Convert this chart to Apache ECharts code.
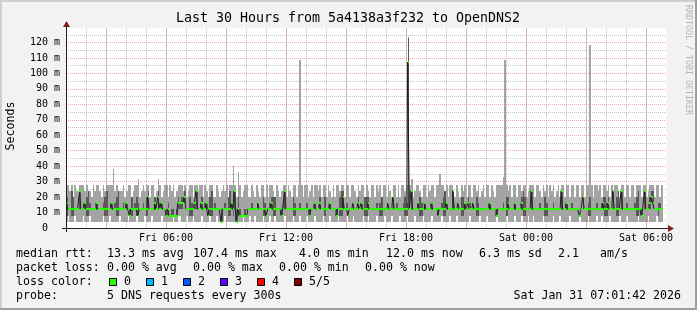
<!DOCTYPE html>
<html><head><meta charset="utf-8">
<script src="https://cdn.jsdelivr.net/npm/echarts@6/dist/echarts.min.js"></script>
<style>html,body{margin:0;padding:0;background:#f2f2f2}#c{width:697px;height:310px}</style>
</head><body><div id="c"></div>
<script>
// time axis: minutes since Fri 00:00, one sample every 5 minutes starting Fri 01:00
const START_MIN = 60;
const STEP_MIN = 5;
const xTickLabels = ['Fri 06:00','Fri 12:00','Fri 18:00','Sat 00:00','Sat 06:00'];
const xMajorGrid = [180,360,540,720,900,1080,1260,1440,1620,1800];
const yTickSuffix = ' m';

const medianRtt = [
16,12,12,12,12,12,12,12,24,12,12,16,12,12,12,12,12,12,16,12,
12,12,12,12,12,12,12,16,12,12,12,12,12,12,12,12,16,12,8,12,
12,12,12,8,12,12,12,12,12,20,12,12,12,16,12,20,12,16,12,12,
8,12,8,8,8,8,8,16,16,16,16,20,12,12,12,12,12,16,24,12,
12,16,12,12,16,8,12,12,12,12,12,12,12,4,12,12,12,12,12,16,
12,24,4,12,8,8,8,8,8,12,12,12,12,12,12,16,12,12,12,12,
8,12,12,16,12,12,12,12,12,8,12,24,12,12,12,12,12,12,12,12,
12,12,12,12,12,12,8,12,12,16,12,12,16,12,12,12,12,12,16,12,
12,12,8,12,12,12,20,12,12,8,12,12,16,12,12,16,12,16,12,12,
12,16,12,12,12,12,12,12,12,12,12,12,12,16,12,12,20,12,12,12,
12,12,12,12,12,107.4,12,24,12,12,12,16,12,12,12,16,12,12,12,16,
12,12,12,8,12,12,12,12,16,12,12,12,24,12,12,16,12,12,12,16,
12,16,12,12,16,12,12,12,12,12,12,12,12,12,16,12,12,12,8,12,
12,12,12,12,12,16,12,12,12,16,12,12,12,16,12,12,12,12,12,24,
12,12,12,12,12,12,12,12,12,12,12,12,12,12,12,12,12,24,12,12,
16,12,12,12,12,12,12,12,8,12,20,12,12,12,12,12,12,12,12,12,
12,12,16,12,12,16,12,12,24,12,12,12,12,24,12,12,12,12,12,12,
12,12,12,12,12,8,12,24,12,12,16,20,16,12,12,12,12,12,null,null];

const pingMin = [
4,8,4,4,4,8,4,4,4,4,8,4,4,4,8,4,4,4,4,4,
4,4,8,4,4,4,8,4,4,4,4,4,8,4,4,4,4,8,4,4,
4,4,8,4,4,4,4,8,4,4,4,8,4,4,4,4,4,8,4,4,
4,4,4,4,8,4,4,8,8,4,4,4,8,4,4,4,8,4,4,4,
4,8,4,4,4,4,8,4,4,4,8,4,4,4,4,8,4,4,4,4,
4,4,4,4,4,4,8,4,4,4,8,4,4,8,4,4,4,4,8,4,
4,4,8,4,4,8,4,4,4,4,4,8,4,4,4,4,8,4,4,4,
8,4,4,4,8,4,4,4,4,8,4,4,4,4,8,4,4,4,8,4,
4,4,4,8,4,4,4,4,8,4,4,4,8,4,4,4,4,4,8,4,
4,8,4,4,4,4,8,4,4,4,4,8,4,4,4,8,4,4,4,4,
8,4,4,4,8,4,4,4,4,8,4,4,4,4,8,4,4,4,4,8,
4,4,4,4,4,8,4,4,4,4,8,4,4,4,8,4,4,4,4,4,
4,4,8,4,4,4,4,4,8,4,4,4,8,4,4,4,4,4,8,4,
4,4,4,4,8,4,4,4,4,8,4,4,4,8,4,4,4,8,4,4,
8,4,4,4,4,4,8,4,4,4,4,4,8,4,4,4,8,4,4,4,
4,4,8,4,4,4,4,4,8,4,4,4,4,8,4,4,4,4,8,4,
4,8,4,4,4,4,8,4,4,4,4,4,8,4,4,4,8,4,4,4,
4,4,4,8,4,4,4,4,4,8,4,4,4,4,8,4,4,4,null,null];

const pingLow = [
8,12,12,8,8,12,12,12,12,12,12,12,8,8,12,12,12,12,12,12,
12,12,12,8,8,12,12,12,12,12,8,8,12,12,12,12,12,12,8,8,
12,12,8,8,12,12,12,12,8,12,12,12,12,12,12,12,12,12,12,12,
8,8,8,8,8,8,8,12,12,12,16,16,12,12,8,8,12,12,12,12,
12,12,12,12,12,8,8,8,12,12,12,12,12,4,12,12,12,8,8,12,
8,12,4,8,8,8,8,8,8,12,12,12,12,12,12,12,12,12,8,8,
8,12,12,12,8,8,12,12,12,8,12,12,12,12,12,12,8,8,12,12,
12,12,12,12,12,12,8,12,12,12,12,12,12,12,12,8,12,12,12,12,
12,12,8,12,8,8,12,12,12,8,12,12,12,12,12,12,12,12,12,8,
8,12,12,12,12,12,12,12,8,8,12,12,12,12,12,12,12,12,12,12,
12,12,12,8,8,12,12,12,12,12,12,12,8,8,12,12,12,12,12,12,
12,12,12,8,12,12,8,8,12,12,12,12,12,12,12,12,12,8,8,12,
12,12,12,12,12,12,8,8,12,12,12,12,12,12,12,12,12,12,8,12,
12,12,12,12,8,12,12,12,12,12,12,12,12,12,8,8,12,12,12,12,
12,12,12,12,12,12,12,8,8,12,12,12,12,12,12,12,12,12,12,12,
12,12,12,12,12,12,12,12,8,12,12,12,12,8,8,12,12,12,12,12,
12,12,12,8,8,12,12,12,12,12,8,8,12,12,12,12,12,12,12,12,
12,12,8,8,12,8,12,12,12,12,12,16,12,12,12,8,12,12,null,null];

const pingHigh = [
20,12,12,24,20,12,12,12,24,12,16,16,20,24,16,12,12,12,16,12,
12,12,16,20,24,12,12,16,12,16,20,24,12,12,16,12,16,12,12,20,
12,16,20,16,12,12,16,12,20,24,12,12,12,20,12,24,16,16,12,12,
12,16,8,12,12,8,12,20,16,20,20,24,12,12,20,16,12,16,24,12,
12,20,12,16,16,12,20,24,12,16,12,12,12,12,12,16,12,20,24,16,
24,24,12,20,12,8,8,12,8,12,12,16,12,12,12,16,12,12,20,16,
8,12,16,20,20,20,12,12,12,12,16,24,12,12,12,12,20,16,12,12,
16,12,12,12,16,12,12,12,12,16,12,12,20,12,12,20,12,12,16,12,
12,12,12,12,20,24,24,12,16,8,12,12,16,12,12,20,12,16,12,20,
20,20,12,12,12,12,16,12,16,20,12,12,12,16,12,12,20,12,16,12,
12,12,16,20,16,123,12,24,12,12,12,16,20,16,12,16,12,12,12,16,
12,12,12,12,12,16,20,24,16,12,12,12,24,12,12,16,12,20,20,16,
12,20,16,12,16,12,20,16,12,12,12,12,12,16,16,12,12,12,12,12,
12,12,16,12,20,20,12,12,12,16,12,12,12,20,24,20,12,12,12,24,
12,12,12,12,16,12,12,20,16,12,12,12,16,12,12,12,12,24,12,12,
16,12,12,16,12,12,12,12,8,12,20,12,12,16,20,12,12,12,16,12,
12,16,20,20,16,20,12,12,24,12,20,24,12,24,12,12,16,12,12,12,
12,16,20,24,12,12,12,24,12,12,20,24,24,12,12,16,16,12,null,null];

const pingMax = [
28,28,24,28,20,28,24,20,28,28,28,24,28,24,24,20,28,24,28,28,
24,20,28,24,28,28,28,28,38,24,28,24,24,24,28,20,24,28,28,20,
24,28,28,32,20,24,28,24,28,28,20,28,28,20,24,32,28,20,24,28,
28,20,28,24,28,20,24,28,28,28,24,28,20,24,28,28,20,28,28,24,
28,28,20,28,24,20,28,28,20,20,28,24,20,24,28,24,28,20,28,28,
40,28,20,36,28,20,24,28,28,20,20,28,24,20,28,24,20,28,28,20,
28,20,28,28,24,20,28,24,20,24,28,28,20,28,24,20,28,28,20,28,
109,28,20,28,28,20,24,28,20,28,28,24,28,20,28,28,20,28,24,20,
28,20,28,28,24,28,28,20,28,28,20,28,28,24,20,28,24,28,28,20,
28,24,20,28,28,20,28,24,28,20,28,28,20,28,24,20,28,28,20,28,
20,28,28,24,28,123.5,28,32,20,24,28,28,24,20,28,28,20,28,24,28,
28,20,28,28,35,28,28,24,28,20,28,28,24,20,28,24,20,28,24,28,
20,28,28,20,28,28,24,28,20,24,28,20,28,28,20,28,24,20,28,28,
28,28,33,108.7,28,24,28,20,28,28,20,28,28,24,28,28,20,24,28,28,
28,20,28,28,24,20,28,24,28,20,28,24,28,20,24,28,20,28,28,20,
28,28,20,28,28,20,28,28,20,28,28,20,28,28,118.4,28,20,28,28,24,
28,20,28,28,24,28,20,28,24,28,28,24,20,28,28,20,28,28,20,28,
28,20,28,28,28,20,28,28,20,24,28,28,28,20,28,28,20,28,null,null];

const lossLabels = ['0','1','2','3','4','5/5'];
const lossColors = ['#26ff00','#00b8ff','#0059ff','#5e00ff','#ff0000','#7e0000'];

const MONO = '"DejaVu Sans Mono", monospace';
const GRID_COL = 'rgba(143,143,143,0.55)';
const MGRID_COL = 'rgba(222,79,79,0.5)';

const smokeOuter = [], smokeInner = [], medPts = [], medLine = [];
for (let i = 0; i < medianRtt.length; i++) {
  const t = START_MIN + STEP_MIN * i;
  if (medianRtt[i] == null) { medLine.push([t + STEP_MIN / 2, '-']); continue; }
  smokeOuter.push([t, pingMin[i], pingMax[i]]);
  smokeInner.push([t, pingLow[i], pingHigh[i]]);
  medPts.push([t, medianRtt[i]]);
  medLine.push([t + STEP_MIN / 2, medianRtt[i]]);
}

function band(fill) {
  return function (p, api) {
    const t = api.value(0);
    const a = api.coord([t, api.value(1)]);
    const b = api.coord([t + STEP_MIN, api.value(2)]);
    const x0 = Math.round(a[0]), x1 = Math.round(b[0]);
    const yb = Math.round(a[1]), yt = Math.round(b[1]);
    return { type: 'rect', shape: { x: x0, y: yt, width: x1 - x0, height: yb - yt }, style: { fill: fill } };
  };
}
function medMark(p, api) {
  const t = api.value(0);
  const a = api.coord([t, api.value(1)]);
  const b = api.coord([t + STEP_MIN, api.value(1)]);
  const x0 = Math.round(a[0]), x1 = Math.round(b[0]), y = Math.round(a[1]);
  return { type: 'rect', shape: { x: x0, y: y - 1, width: x1 - x0, height: 2 }, style: { fill: lossColors[0] } };
}

const graphic = [
  { type: 'rect', shape: { x: 0, y: 0, width: 697, height: 2 }, style: { fill: '#cfcfcf' }, z: 100 },
  { type: 'rect', shape: { x: 0, y: 0, width: 2, height: 310 }, style: { fill: '#cfcfcf' }, z: 100 },
  { type: 'rect', shape: { x: 0, y: 308, width: 697, height: 2 }, style: { fill: '#9e9e9e' }, z: 100 },
  { type: 'rect', shape: { x: 695, y: 0, width: 2, height: 310 }, style: { fill: '#9e9e9e' }, z: 100 },
  { type: 'line', shape: { x1: 62, y1: 228.5, x2: 668, y2: 228.5 }, style: { stroke: '#1f1f1f', lineWidth: 1 }, z: 100 },
  { type: 'line', shape: { x1: 66.5, y1: 232, x2: 66.5, y2: 26 }, style: { stroke: '#1f1f1f', lineWidth: 1 }, z: 100 },
  { type: 'polygon', shape: { points: [[668, 225], [674, 228.5], [668, 232]] }, style: { fill: '#801f1f' }, z: 100 },
  { type: 'polygon', shape: { points: [[63, 27], [66.5, 21], [70, 27]] }, style: { fill: '#801f1f' }, z: 100 },
  { type: 'text', x: 348, y: 19, style: { text: 'Last 30 Hours from 5a4138a3f232 to OpenDNS2', fontFamily: MONO, fontSize: 13.3, fill: '#000', align: 'center', verticalAlign: 'middle' }, z: 100 },
  { type: 'text', x: 11, y: 126, rotation: Math.PI / 2, style: { text: 'Seconds', fontFamily: MONO, fontSize: 11.6, fill: '#000', align: 'center', verticalAlign: 'middle' }, z: 100 },
  { type: 'text', x: 688, y: 5, rotation: -Math.PI / 2, style: { text: 'RRDTOOL / TOBI OETIKER', fontFamily: MONO, fontSize: 8.3, fill: '#b4b4b4', align: 'left', verticalAlign: 'middle' }, z: 100 }
];
const legendRows = [
  [254, [['median rtt:', 16], ['13.3 ms avg', 107], ['107.4 ms max', 193], ['4.0 ms min', 299], ['12.0 ms now', 386], ['6.3 ms sd', 479], ['2.1', 558], ['am/s', 600]]],
  [268, [['packet loss:', 16], ['0.00 % avg', 107], ['0.00 % max', 193], ['0.00 % min', 279], ['0.00 % now', 365]]],
  [282, [['loss color:', 16]]],
  [296, [['probe:', 16], ['5 DNS requests every 300s', 107]]]
];
legendRows.forEach(function (row) {
  row[1].forEach(function (it) {
    graphic.push({ type: 'text', x: it[1], y: row[0], style: { text: it[0], fontFamily: MONO, fontSize: 11.6, fill: '#000', align: 'left', verticalAlign: 'middle' }, z: 100 });
  });
});
graphic.push({ type: 'text', x: 681, y: 296, style: { text: 'Sat Jan 31 07:01:42 2026', fontFamily: MONO, fontSize: 11.6, fill: '#000', align: 'right', verticalAlign: 'middle' }, z: 100 });
lossLabels.forEach(function (lab, k) {
  const bx = 109 + k * 36.9;
  graphic.push({ type: 'rect', shape: { x: Math.round(bx) + 0.5, y: 278.5, width: 7, height: 7 }, style: { fill: lossColors[k], stroke: '#000', lineWidth: 1 }, z: 100 });
  graphic.push({ type: 'text', x: Math.round(bx) + 15, y: 282, style: { text: lab, fontFamily: MONO, fontSize: 11.6, fill: '#000', align: 'left', verticalAlign: 'middle' }, z: 100 });
});

const chart = echarts.init(document.getElementById('c'), null, { renderer: 'canvas', width: 697, height: 310 });
chart.setOption({
  backgroundColor: '#f2f2f2',
  animation: false,
  grid: { left: 66, right: 31, top: 28, bottom: 82, show: true, backgroundColor: '#ffffff', borderWidth: 0, z: 0 },
  xAxis: {
    type: 'value', min: 60, max: 1860, interval: 60, z: 1,
    axisLine: { show: true, lineStyle: { color: '#1f1f1f', width: 1 } },
    axisTick: { show: false },
    axisLabel: { show: true, margin: 5, fontFamily: MONO, fontSize: 10, color: '#000',
      formatter: function (v) { return (v % 360 === 0 && v > 0) ? xTickLabels[v / 360 - 1] : ''; } },
    splitLine: { show: true, showMinLine: false, showMaxLine: false, lineStyle: { color: GRID_COL, type: [1, 1], width: 1 } }
  },
  yAxis: {
    type: 'value', min: 0, max: 129.4, interval: 10, z: 1,
    axisLine: { show: true, lineStyle: { color: '#1f1f1f', width: 1 } },
    axisTick: { show: false },
    minorTick: { show: false, splitNumber: 2 },
    minorSplitLine: { show: true, lineStyle: { color: GRID_COL, type: [1, 1], width: 1 } },
    axisLabel: { show: true, margin: 6, fontFamily: MONO, fontSize: 10, color: '#000',
      formatter: function (v) { return v === 0 ? '0  ' : (v % 10 === 0 ? v + yTickSuffix : ''); } },
    splitLine: { show: true, showMinLine: false, showMaxLine: false, lineStyle: { color: MGRID_COL, type: [1, 1], width: 1 } }
  },
  series: [
    { type: 'line', z: 1, data: [], silent: true,
      markLine: { silent: true, symbol: ['none', 'none'], label: { show: false },
        lineStyle: { color: MGRID_COL, type: [1, 1], width: 1 },
        data: xMajorGrid.map(function (v) { return { xAxis: v }; }) } },
    { type: 'custom', z: 2, data: smokeOuter, encode: { x: 0, y: [1, 2] }, renderItem: band('#a4a4a4'), silent: true },
    { type: 'custom', z: 3, data: smokeInner, encode: { x: 0, y: [1, 2] }, renderItem: band('#585858'), silent: true },
    { type: 'line', z: 4, data: medLine, step: 'middle', showSymbol: false, connectNulls: false, lineStyle: { color: '#202020', width: 1 }, silent: true },
    { type: 'custom', z: 5, data: medPts, encode: { x: 0, y: 1 }, renderItem: medMark, silent: true }
  ],
  graphic: graphic
});
</script>
</body></html>
